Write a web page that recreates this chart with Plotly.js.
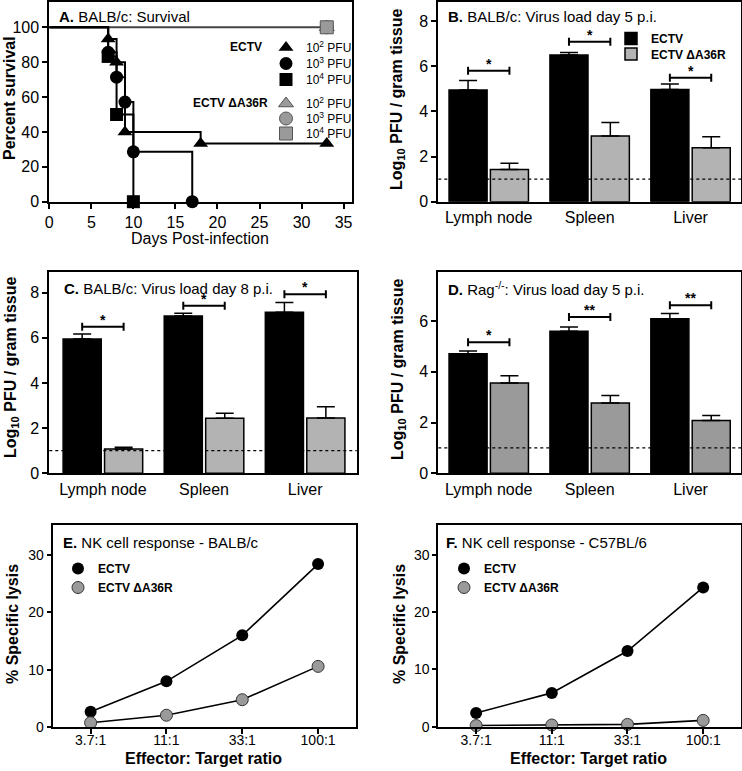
<!DOCTYPE html>
<html><head><meta charset="utf-8">
<script src="https://cdn.plot.ly/plotly-3.0.1.min.js"></script>
<style>html,body{margin:0;padding:0;background:#fff}#chart{width:742px;height:771px}</style>
</head><body><div id="chart"></div>
<script>
// ---------- Panel A: survival ----------
const survDays102 = [0, 7, 8, 9, 18, 33];
const survPct102  = [100, 93.3, 80, 40, 33.3, 33.3];
const survDays103 = [0, 7, 8, 9, 10, 17];
const survPct103  = [100, 85.7, 71.4, 57.1, 28.6, 0];
const survDays104 = [0, 7, 8, 10];
const survPct104  = [100, 83.3, 50, 0];
const survDaysMut = [0, 33];
const survPctMut  = [100, 100];
const doseLabels  = ['10<sup>2</sup> PFU', '10<sup>3</sup> PFU', '10<sup>4</sup> PFU'];
const doseSymbols = ['triangle-up', 'circle', 'square'];

// ---------- Bar panels ----------
const tissues = ['Lymph node', 'Spleen', 'Liver'];
const seriesNames = ['ECTV', 'ECTV ΔA36R'];

const bWt = [4.95, 6.49, 4.97];   const bWtErr = [0.41, 0.12, 0.24];
const bMut = [1.43, 2.91, 2.39];  const bMutErr = [0.27, 0.60, 0.49];
const bBracket = [5.80, 7.08, 5.49]; const bStars = ['*', '*', '*'];

const cWt = [5.95, 6.97, 7.13];   const cWtErr = [0.22, 0.12, 0.43];
const cMut = [1.08, 2.44, 2.45];  const cMutErr = [0.07, 0.22, 0.50];
const cBracket = [6.49, 7.42, 7.93]; const cStars = ['*', '*', '*'];

const dWt = [4.71, 5.60, 6.09];   const dWtErr = [0.11, 0.17, 0.21];
const dMut = [3.56, 2.77, 2.08];  const dMutErr = [0.29, 0.30, 0.20];
const dBracket = [5.17, 6.16, 6.63]; const dStars = ['*', '**', '**'];

const detectionLimit = 1;

// ---------- NK panels ----------
const ratios = ['3.7:1', '11:1', '33:1', '100:1'];
const eWt  = [2.7, 8.0, 16.0, 28.4];
const eMut = [0.8, 2.1, 4.8, 10.6];
const fWt  = [2.4, 5.9, 13.2, 24.3];
const fMut = [0.2, 0.3, 0.4, 1.1];

const W = 742, H = 771;
const px = v => v / W;
const py = v => 1 - v / H;
const FONT = 'Liberation Sans, Arial, Helvetica, sans-serif';
const BLACK = '#000000';
const GREY_MARK = '#9a9a9a';

const traces = [];
const legends = {};
let legendCount = 0;
// one Plotly legend per box; origin = left edge, top = top edge (pixels)
function newLegend(x, top) {
  legendCount += 1;
  const id = legendCount === 1 ? 'legend' : 'legend' + legendCount;
  legends[id] = {x: px(x), y: py(top), xanchor: 'left', yanchor: 'top', bgcolor: 'rgba(0,0,0,0)',
    font: {size: 12, color: BLACK}, borderwidth: 0};
  return id;
}

// Panel A
traces.push({x: survDaysMut, y: survPctMut, xaxis: 'x', yaxis: 'y', mode: 'lines',
  line: {color: '#444', width: 2}, showlegend: false, hoverinfo: 'skip'});
const survWt = [[survDays102, survPct102], [survDays103, survPct103], [survDays104, survPct104]];
survWt.forEach(s => {
  traces.push({x: s[0], y: s[1], xaxis: 'x', yaxis: 'y', mode: 'lines',
    line: {color: BLACK, width: 2, shape: 'hv'}, showlegend: false});
});
const rowWt = [47, 63, 79], rowMut = [103, 118, 133];
survWt.forEach((s, k) => {
  traces.push({x: s[0].slice(1), y: s[1].slice(1), xaxis: 'x', yaxis: 'y', mode: 'markers',
    name: doseLabels[k], legend: newLegend(266, rowWt[k] - 14), cliponaxis: false,
    marker: {symbol: doseSymbols[k], size: 13, color: BLACK, line: {width: 0}}});
});
[0, 1, 2].forEach(k => {
  traces.push({x: survDaysMut.slice(1), y: survPctMut.slice(1), xaxis: 'x', yaxis: 'y', mode: 'markers',
    name: doseLabels[k], legend: newLegend(266, rowMut[k] - 14), cliponaxis: false,
    marker: {symbol: doseSymbols[k], size: 13, color: GREY_MARK, line: {width: 1, color: '#555'}}});
});

// Bar panels
const legB1 = newLegend(611, 24), legB2 = newLegend(611, 39.5);
function barPair(ax, ay, wt, wtErr, mut, mutErr, greyColor, showLeg) {
  const zeros = wt.map(() => 0);
  traces.push({type: 'bar', x: tissues, y: wt, xaxis: ax, yaxis: ay, name: '<b>' + seriesNames[0] + '</b>',
    legend: legB1, showlegend: showLeg,
    marker: {color: BLACK, line: {color: BLACK, width: 1.5}},
    error_y: {type: 'data', symmetric: false, array: wtErr, arrayminus: zeros, color: BLACK, thickness: 1.5, width: 9}});
  traces.push({type: 'bar', x: tissues, y: mut, xaxis: ax, yaxis: ay, name: '<b>' + seriesNames[1] + '</b>',
    legend: legB2, showlegend: showLeg,
    marker: {color: greyColor, line: {color: BLACK, width: 1.5}},
    error_y: {type: 'data', symmetric: false, array: mutErr, arrayminus: zeros, color: BLACK, thickness: 1.5, width: 9}});
}
barPair('x2', 'y2', bWt, bWtErr, bMut, bMutErr, '#b3b3b3', true);
barPair('x3', 'y3', cWt, cWtErr, cMut, cMutErr, '#b3b3b3', false);
barPair('x4', 'y4', dWt, dWtErr, dMut, dMutErr, '#9a9a9a', false);

// NK panels
function nkPair(ax, ay, wt, mut, leg) {
  traces.push({x: ratios, y: wt, xaxis: ax, yaxis: ay, mode: 'lines', line: {color: BLACK, width: 1.6}, showlegend: false});
  traces.push({x: ratios, y: mut, xaxis: ax, yaxis: ay, mode: 'lines', line: {color: BLACK, width: 1.6}, showlegend: false});
  traces.push({x: ratios, y: wt, xaxis: ax, yaxis: ay, mode: 'markers', name: '<b>' + seriesNames[0] + '</b>',
    legend: leg, cliponaxis: false, marker: {symbol: 'circle', size: 12, color: BLACK, line: {width: 0}}});
  traces.push({x: ratios, y: mut, xaxis: ax, yaxis: ay, mode: 'markers', name: '<b>' + seriesNames[1] + '</b>',
    legend: leg, cliponaxis: false, marker: {symbol: 'circle', size: 12, color: GREY_MARK, line: {width: 1, color: '#333'}}});
}
nkPair('x5', 'y5', eWt, eMut, newLegend(58, 554));
nkPair('x6', 'y6', fWt, fMut, newLegend(444, 554));

// Shapes: detection limit + significance brackets
const shapes = [];
const annotations = [];
const half = 0.205;
function barExtras(ax, ay, brackets, stars) {
  shapes.push({type: 'line', xref: ax + ' domain', x0: 0, x1: 1, yref: ay, y0: detectionLimit, y1: detectionLimit,
    line: {color: BLACK, width: 1.2, dash: 'dot'}, layer: 'above'});
  brackets.forEach((h, i) => {
    shapes.push({type: 'line', xref: ax, yref: ay, x0: i - half, x1: i + half, y0: h, y1: h, line: {color: BLACK, width: 2}});
    [i - half, i + half].forEach(xx => {
      shapes.push({type: 'line', xref: ax, yref: ay, x0: xx, x1: xx, ysizemode: 'pixel', yanchor: h, y0: -4, y1: 4,
        line: {color: BLACK, width: 2}});
    });
    annotations.push({xref: ax, yref: ay, x: i, y: h, text: '<b>' + stars[i] + '</b>', showarrow: false,
      yanchor: 'bottom', yshift: -3, font: {size: 14, color: BLACK}});
  });
}
barExtras('x2', 'y2', bBracket, bStars);
barExtras('x3', 'y3', cBracket, cStars);
barExtras('x4', 'y4', dBracket, dStars);

function paperText(text, x, y, opts) {
  annotations.push(Object.assign({xref: 'paper', yref: 'paper', x: px(x), y: py(y), text: text, showarrow: false,
    xanchor: 'left', yanchor: 'middle', font: {size: 15, color: BLACK}}, opts || {}));
}
// Panel titles
paperText('<b>A.</b> BALB/c: Survival', 57, 16);
paperText('<b>B.</b> BALB/c: Virus load day 5 p.i.', 446, 16);
paperText('<b>C.</b> BALB/c: Virus load day 8 p.i.', 62, 288);
paperText('<b>D.</b> Rag<sup>-/-</sup>: Virus load day 5 p.i.', 446, 288);
paperText('<b>E.</b> NK cell response - BALB/c', 61, 542);
paperText('<b>F.</b> NK cell response - C57BL/6', 444, 542);
// Legend group labels (panel A)
paperText('<b>ECTV</b>', 264, 47, {xanchor: 'right', font: {size: 12, color: BLACK}});
paperText('<b>ECTV ΔA36R</b>', 270, 103, {xanchor: 'right', font: {size: 12, color: BLACK}});
// Axis titles
const rot = {xanchor: 'center', textangle: -90, font: {size: 16, color: BLACK}};
paperText('<b>Percent survival</b>', 9, 98, rot);
paperText('<b>Log<sub>10</sub> PFU / gram tissue</b>', 398, 100, rot);
paperText('<b>Log<sub>10</sub> PFU / gram tissue</b>', 11, 368, rot);
paperText('<b>Log<sub>10</sub> PFU / gram tissue</b>', 398, 370, rot);
paperText('<b>% Specific lysis</b>', 12, 624, rot);
paperText('<b>% Specific lysis</b>', 399, 624, rot);
paperText('Days Post-infection', 200, 238, {xanchor: 'center', font: {size: 16, color: BLACK}});
paperText('<b>Effector: Target ratio</b>', 203, 758, {xanchor: 'center', font: {size: 16, color: BLACK}});
paperText('<b>Effector: Target ratio</b>', 588, 758, {xanchor: 'center', font: {size: 16, color: BLACK}});

function axisBase(extra) {
  return Object.assign({showline: true, linecolor: BLACK, linewidth: 2, mirror: true, showgrid: false, zeroline: false,
    ticks: 'outside', tickcolor: BLACK, tickwidth: 2, ticklen: 5, tickfont: {size: 16, color: BLACK}, fixedrange: true}, extra);
}

const layout = Object.assign({
  width: W, height: H, margin: {l: 0, r: 0, t: 0, b: 0}, paper_bgcolor: '#fff', plot_bgcolor: '#fff',
  font: {family: FONT, color: BLACK}, barmode: 'group', bargap: 0.18, bargroupgap: 0.08,
  showlegend: true,
  xaxis:  axisBase({domain: [px(49.3), px(352)], range: [0, 36], tickvals: [0,5,10,15,20,25,30,35], anchor: 'y'}),
  yaxis:  axisBase({domain: [py(201.7), py(2)], range: [0, 114.5], tickvals: [0,20,40,60,80,100], anchor: 'x'}),
  xaxis2: axisBase({domain: [px(438.3), px(741)], type: 'category', range: [-0.5, 2.5], ticks: '', anchor: 'y2'}),
  yaxis2: axisBase({domain: [py(201.7), py(2)], range: [0, 8.84], dtick: 2, anchor: 'x2'}),
  xaxis3: axisBase({domain: [px(49.3), px(356.7)], type: 'category', range: [-0.53, 2.51], ticks: '', anchor: 'y3'}),
  yaxis3: axisBase({domain: [py(473.3), py(272.3)], range: [0, 8.9], dtick: 2, anchor: 'x3'}),
  xaxis4: axisBase({domain: [px(438.3), px(741)], type: 'category', range: [-0.5, 2.5], ticks: '', anchor: 'y4'}),
  yaxis4: axisBase({domain: [py(473.3), py(271.7)], range: [0, 7.95], dtick: 2, anchor: 'x4'}),
  xaxis5: axisBase({domain: [px(52.7), px(356)], type: 'category', range: [-0.5, 3.5], ticklen: 5, ticklabelstandoff: -6, tickfont: {size: 14, color: BLACK}, anchor: 'y5'}),
  yaxis5: axisBase({domain: [py(727.3), py(525)], range: [0, 35.2], dtick: 10, ticklen: 4, tickfont: {size: 14, color: BLACK}, anchor: 'x5'}),
  xaxis6: axisBase({domain: [px(438.3), px(741)], type: 'category', range: [-0.5, 3.5], ticklen: 5, ticklabelstandoff: -6, tickfont: {size: 14, color: BLACK}, anchor: 'y6'}),
  yaxis6: axisBase({domain: [py(726.7), py(525)], range: [0, 35.2], dtick: 10, ticklen: 4, tickfont: {size: 14, color: BLACK}, anchor: 'x6'}),
  shapes: shapes,
  annotations: annotations
}, legends);

Plotly.newPlot('chart', traces, layout, {displayModeBar: false, staticPlot: true});
</script>
</body></html>
